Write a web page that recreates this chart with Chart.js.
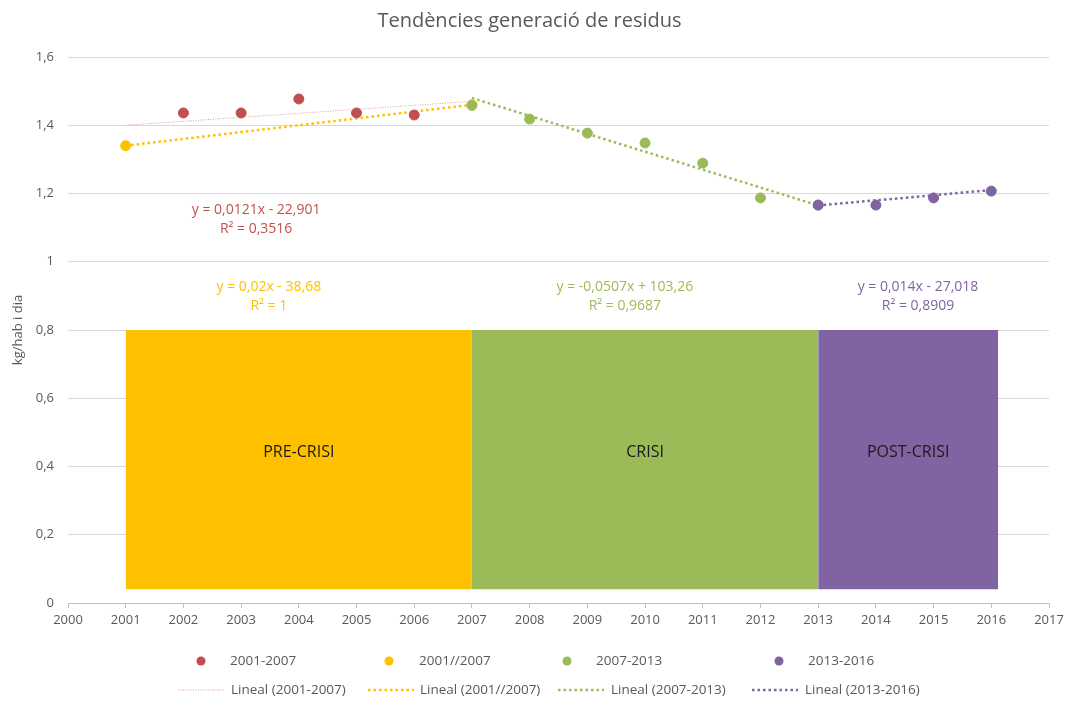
<!DOCTYPE html>
<html>
<head>
<meta charset="utf-8">
<script src="https://cdn.jsdelivr.net/npm/chart.js@4.4.0/dist/chart.umd.min.js"></script>
<style>
  html, body { margin: 0; padding: 0; background: #fff; }
  #wrap { width: 1072px; height: 702px; }
</style>
</head>
<body>
<div id="wrap"><canvas id="c" width="1072" height="702"></canvas></div>
<script>
// dades llegides del gràfic
const anysPre = [2002, 2003, 2004, 2005, 2006];
const valorsPre = [1.436, 1.436, 1.477, 1.436, 1.43];
const anysPre2 = [2001, 2007];
const valorsPre2 = [1.34, 1.46];
const anysCrisi = [2007, 2008, 2009, 2010, 2011, 2012, 2013];
const valorsCrisi = [1.458, 1.418, 1.377, 1.348, 1.289, 1.187, 1.166];
const anysPost = [2013, 2014, 2015, 2016];
const valorsPost = [1.166, 1.166, 1.187, 1.207];

// línies de tendència (extrems llegits del gràfic)
const tendPre = [1.40, 1.47];
const tendPre2 = [1.34, 1.46];
const tendCrisi = [1.48, 1.165];
const tendPost = [1.165, 1.21];

// etapes
const etapes = ['PRE-CRISI', 'CRISI', 'POST-CRISI'];
const etapaInici = [2001, 2007, 2013];
const etapaFi = [2007, 2013, 2016.12];
const etapaAlt = 0.8;
const etapaBase = 0.04;

const yTicks = [0, 0.2, 0.4, 0.6, 0.8, 1, 1.2, 1.4, 1.6];

const colors = {
  red: '#c0504d', yellow: '#ffc000', green: '#9bbb59', purple: '#8064a2'
};
const FONT = '"Open Sans", "Liberation Sans", sans-serif';
const DOTS = [2.5, 3];
const THIN = [1, 1.5];

const equacions = [
  { text: ['y = 0,0121x - 22,901', 'R² = 0,3516'], x: 2003.26, y: 1.152, color: colors.red },
  { text: ['y = 0,02x - 38,68', 'R² = 1'], x: 2003.48, y: 0.926, color: colors.yellow },
  { text: ['y = -0,0507x + 103,26', 'R² = 0,9687'], x: 2009.65, y: 0.926, color: colors.green },
  { text: ['y = 0,014x - 27,018', 'R² = 0,8909'], x: 2014.73, y: 0.926, color: colors.purple }
];

function pts(xs, ys) { return xs.map((x, i) => ({ x: x, y: ys[i] })); }
function ends(xs, ys) { return [{ x: xs[0], y: ys[0] }, { x: xs[xs.length - 1], y: ys[1] }]; }

function punts(label, xs, ys, col) {
  return {
    label: label, data: pts(xs, ys), showLine: false,
    pointRadius: 5, pointHoverRadius: 5, pointBackgroundColor: col, pointBorderColor: col, borderColor: col
  };
}
function tend(label, xs, ys, col, w, dash) {
  return {
    label: label, data: ends(xs, ys), showLine: true, pointRadius: 0,
    borderColor: col, borderWidth: w, borderDash: dash, borderCapStyle: 'butt', fill: false
  };
}

const boxColors = [colors.yellow, colors.green, colors.purple];
const boxes = etapes.map((nom, i) => ({
  label: nom,
  data: [{ x: etapaInici[i], y: etapaAlt }, { x: etapaFi[i], y: etapaAlt }],
  showLine: true, pointRadius: 0, borderWidth: 0, borderColor: 'rgba(0,0,0,0)',
  backgroundColor: boxColors[i], fill: { value: etapaBase }
}));

// el primer conjunt queda a sobre
const datasets = [
  punts('2013-2016', anysPost, valorsPost, colors.purple),
  punts('2007-2013', anysCrisi, valorsCrisi, colors.green),
  punts('2001-2007', anysPre, valorsPre, colors.red),
  punts('2001//2007', anysPre2, valorsPre2, colors.yellow),
  tend('Lineal (2001-2007)', [2001, 2007], tendPre, '#e39b9b', 1, THIN),
  tend('Lineal (2001//2007)', anysPre2, tendPre2, colors.yellow, 2.5, DOTS),
  tend('Lineal (2007-2013)', [2007, 2013], tendCrisi, colors.green, 2.5, DOTS),
  tend('Lineal (2013-2016)', [2013, 2016], tendPost, colors.purple, 2.5, DOTS)
].concat(boxes);

// llegenda pròpia en dues files
const llegenda1 = [
  { label: '2001-2007', col: colors.red, mx: 201, tx: 230 },
  { label: '2001//2007', col: colors.yellow, mx: 389, tx: 419 },
  { label: '2007-2013', col: colors.green, mx: 567, tx: 596 },
  { label: '2013-2016', col: colors.purple, mx: 779, tx: 808 }
];
const llegenda2 = [
  { label: 'Lineal (2001-2007)', col: '#e39b9b', w: 1, dash: THIN, x0: 178, x1: 225, tx: 231 },
  { label: 'Lineal (2001//2007)', col: colors.yellow, w: 2.5, dash: DOTS, x0: 368, x1: 414, tx: 420 },
  { label: 'Lineal (2007-2013)', col: colors.green, w: 2.5, dash: DOTS, x0: 558, x1: 604, tx: 611 },
  { label: 'Lineal (2013-2016)', col: colors.purple, w: 2.5, dash: DOTS, x0: 752, x1: 798, tx: 805 }
];

const textPlugin = {
  id: 'textos',
  afterDatasetsDraw(chart) {
    const ctx = chart.ctx, xs = chart.scales.x, ys = chart.scales.y;
    ctx.save();
    ctx.textAlign = 'center';
    ctx.textBaseline = 'middle';
    // noms de les etapes
    ctx.font = '16px ' + FONT;
    ctx.fillStyle = '#1a1a1a';
    etapes.forEach((nom, i) => {
      const cx = xs.getPixelForValue((etapaInici[i] + etapaFi[i]) / 2);
      ctx.fillText(nom, cx, ys.getPixelForValue(0.44));
    });
    // equacions
    ctx.font = '14px ' + FONT;
    equacions.forEach(e => {
      ctx.fillStyle = e.color;
      const px = xs.getPixelForValue(e.x), py = ys.getPixelForValue(e.y);
      e.text.forEach((t, k) => ctx.fillText(t, px, py + k * 19));
    });
    ctx.restore();
  },
  afterDraw(chart) {
    const ctx = chart.ctx;
    ctx.save();
    ctx.font = '13.5px ' + FONT;
    ctx.textBaseline = 'middle';
    llegenda1.forEach(l => {
      ctx.beginPath();
      ctx.arc(l.mx, 661, 4.5, 0, Math.PI * 2);
      ctx.fillStyle = l.col;
      ctx.fill();
      ctx.fillStyle = '#595959';
      ctx.fillText(l.label, l.tx, 661);
    });
    llegenda2.forEach(l => {
      ctx.beginPath();
      ctx.setLineDash(l.dash);
      ctx.lineWidth = l.w;
      ctx.strokeStyle = l.col;
      ctx.moveTo(l.x0, 690);
      ctx.lineTo(l.x1, 690);
      ctx.stroke();
      ctx.setLineDash([]);
      ctx.fillStyle = '#595959';
      ctx.fillText(l.label, l.tx, 690);
    });
    ctx.restore();
  }
};

new Chart(document.getElementById('c'), {
  type: 'scatter',
  data: { datasets: datasets },
  options: {
    responsive: false,
    animation: false,
    layout: { padding: { left: 10, right: 23, top: 0, bottom: 63 } },
    plugins: {
      legend: { display: false },
      tooltip: { enabled: false },
      title: {
        display: true,
        text: 'Tendències generació de residus',
        color: '#595959',
        font: { family: FONT, size: 20, weight: 'normal' },
        padding: { top: 9, bottom: 24 }
      }
    },
    scales: {
      x: {
        type: 'linear', min: 2000, max: 2017,
        ticks: {
          stepSize: 1, color: '#595959', padding: 4,
          font: { family: FONT, size: 13 },
          callback: v => String(v)
        },
        grid: { drawOnChartArea: false, drawTicks: true, tickLength: 5, color: '#bfbfbf' },
        border: { color: '#bfbfbf' },
        afterFit: s => { s.height = 36; }
      },
      y: {
        min: 0, max: 1.6,
        afterBuildTicks: s => { s.ticks = yTicks.map(v => ({ value: v })); },
        ticks: {
          color: '#595959', padding: 14,
          font: { family: FONT, size: 13 },
          callback: v => String(Math.round(v * 10) / 10).replace('.', ',')
        },
        grid: { color: '#d9d9d9', drawTicks: false },
        border: { display: false },
        title: {
          display: true, text: 'kg/hab i dia', color: '#595959',
          font: { family: FONT, size: 13 }, padding: { top: 0, bottom: 0 }
        },
        afterFit: s => { s.width = 58; }
      }
    }
  },
  plugins: [textPlugin]
});
</script>
</body>
</html>
